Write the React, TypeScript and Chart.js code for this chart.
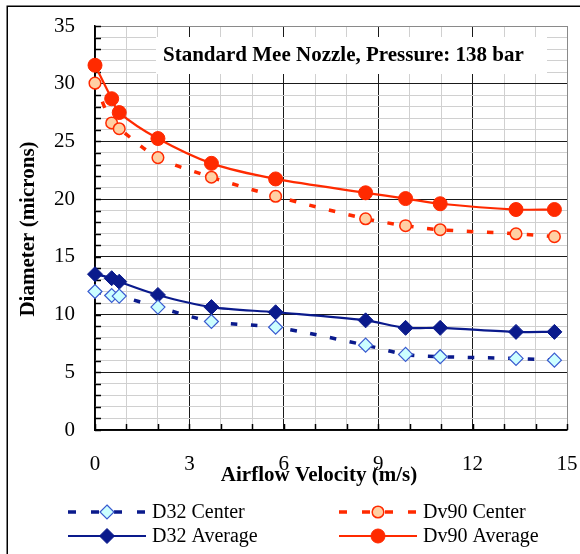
import React, { useEffect, useRef } from 'react';
import { Chart, registerables } from 'chart.js';

Chart.register(...registerables);

// ---- data ----
const velocity = [0, 0.53, 0.77, 2.0, 3.7, 5.74, 8.6, 9.87, 10.97, 13.38, 14.6];
const d32Center = [12.0, 11.65, 11.6, 10.65, 9.4, 8.9, 7.35, 6.55, 6.35, 6.2, 6.05];
const d32Average = [13.5, 13.15, 12.85, 11.7, 10.65, 10.2, 9.5, 8.85, 8.85, 8.5, 8.5];
const dv90Center = [30.05, 26.6, 26.1, 23.6, 21.9, 20.25, 18.3, 17.7, 17.35, 17.0, 16.75];
const dv90Average = [31.6, 28.7, 27.5, 25.25, 23.1, 21.75, 20.55, 20.05, 19.6, 19.1, 19.1];
const seriesNames = ['D32 Center', 'D32 Average', 'Dv90 Center', 'Dv90 Average'];
const xMajorStep = 3;
const yMajorStep = 5;
const xRange = [0, 15];
const yRange = [0, 35];
const chartTitle = 'Standard Mee Nozzle, Pressure: 138 bar';
const xAxisTitle = 'Airflow Velocity (m/s)';
const yAxisTitle = 'Diameter (microns)';

const NAVY = '#0A1A8C';
const RED = '#FF2A00';
const SERIF = "'Liberation Serif', 'Times New Roman', serif";

const toPoints = (ys: number[]) => velocity.map((x, i) => ({ x, y: ys[i] }));

function drawMarker(ctx: CanvasRenderingContext2D, ds: any, x: number, y: number) {
  const r = ds.pointRadius;
  ctx.save();
  ctx.beginPath();
  if (ds.pointStyle === 'circle') {
    ctx.arc(x, y, r, 0, Math.PI * 2);
  } else {
    ctx.moveTo(x, y - r);
    ctx.lineTo(x + r, y);
    ctx.lineTo(x, y + r);
    ctx.lineTo(x - r, y);
    ctx.closePath();
  }
  ctx.fillStyle = ds.pointBackgroundColor;
  ctx.fill();
  ctx.lineWidth = ds.pointBorderWidth;
  ctx.strokeStyle = ds.pointBorderColor;
  ctx.setLineDash([]);
  ctx.stroke();
  ctx.restore();
}

const decorPlugin = {
  id: 'decor',
  beforeDatasetsDraw(chart: any) {
    const { ctx, chartArea, scales } = chart;
    ctx.save();
    ctx.strokeStyle = '#000';
    ctx.lineWidth = 1.5;
    for (let v = xRange[0]; v <= xRange[1]; v++) {
      const x = Math.round(scales.x.getPixelForValue(v)) + 0.5;
      ctx.beginPath();
      ctx.moveTo(x, chartArea.bottom);
      ctx.lineTo(x, chartArea.bottom - 6);
      ctx.stroke();
    }
    for (let v = yRange[0]; v <= yRange[1]; v++) {
      const y = Math.round(scales.y.getPixelForValue(v)) + 0.5;
      ctx.beginPath();
      ctx.moveTo(chartArea.left, y);
      ctx.lineTo(chartArea.left + 6, y);
      ctx.stroke();
    }
    // title box
    ctx.fillStyle = '#fff';
    ctx.fillRect(156, 37, 391, 37);
    ctx.fillStyle = '#000';
    ctx.font = `bold 21px ${SERIF}`;
    ctx.textAlign = 'left';
    ctx.textBaseline = 'alphabetic';
    ctx.fillText(chartTitle, 163, 61);
    ctx.restore();
  },
  afterDraw(chart: any) {
    const { ctx } = chart;
    ctx.save();
    // outer frame
    ctx.strokeStyle = '#000';
    ctx.lineWidth = 1.5;
    ctx.setLineDash([]);
    ctx.beginPath();
    ctx.moveTo(7.25, 554);
    ctx.lineTo(7.25, 6.25);
    ctx.lineTo(580, 6.25);
    ctx.stroke();

    // axis titles
    ctx.fillStyle = '#000';
    ctx.font = `bold 21px ${SERIF}`;
    ctx.textAlign = 'center';
    ctx.textBaseline = 'alphabetic';
    ctx.fillText(xAxisTitle, 319, 481);
    ctx.save();
    ctx.translate(33.5, 229);
    ctx.rotate(-Math.PI / 2);
    ctx.fillText(yAxisTitle, 0, 0);
    ctx.restore();

    // legend
    const slots = [
      { x: 68, y: 512 },
      { x: 68, y: 536 },
      { x: 339, y: 512 },
      { x: 339, y: 536 },
    ];
    chart.data.datasets.forEach((ds: any, i: number) => {
      const s = slots[i];
      ctx.save();
      ctx.strokeStyle = ds.borderColor;
      ctx.lineWidth = ds.borderWidth;
      ctx.setLineDash(ds.borderDash && ds.borderDash.length ? [8, 15] : []);
      ctx.beginPath();
      ctx.moveTo(s.x, s.y);
      ctx.lineTo(s.x + 78, s.y);
      ctx.stroke();
      ctx.restore();
      drawMarker(ctx, ds, s.x + 39, s.y);
      ctx.fillStyle = '#000';
      ctx.font = `20px ${SERIF}`;
      ctx.textAlign = 'left';
      ctx.textBaseline = 'middle';
      ctx.fillText(ds.label, s.x + 84, s.y + 1);
    });
    ctx.restore();
  },
};

export default function App() {
  const ref = useRef<HTMLCanvasElement | null>(null);

  useEffect(() => {
    if (!ref.current) return;
    const common = { clip: false, tension: 0.3, fill: false };
    const chart = new Chart(ref.current, {
      type: 'line',
      data: {
        datasets: [
          {
            ...common,
            label: seriesNames[0],
            data: toPoints(d32Center),
            borderColor: NAVY,
            borderWidth: 3.5,
            borderDash: [6.5, 13.5],
            pointStyle: 'rectRot',
            pointRadius: 7,
            pointBackgroundColor: '#CCFFFF',
            pointBorderColor: '#3A5BD0',
            pointBorderWidth: 1.2,
          },
          {
            ...common,
            label: seriesNames[1],
            data: toPoints(d32Average),
            borderColor: NAVY,
            borderWidth: 2.2,
            pointStyle: 'rectRot',
            pointRadius: 7.5,
            pointBackgroundColor: NAVY,
            pointBorderColor: NAVY,
            pointBorderWidth: 1,
          },
          {
            ...common,
            label: seriesNames[2],
            data: toPoints(dv90Center),
            borderColor: RED,
            borderWidth: 3.5,
            borderDash: [6.5, 13.5],
            pointStyle: 'circle',
            pointRadius: 5.8,
            pointBackgroundColor: '#FFD0A4',
            pointBorderColor: RED,
            pointBorderWidth: 1.5,
          },
          {
            ...common,
            label: seriesNames[3],
            data: toPoints(dv90Average),
            borderColor: RED,
            borderWidth: 2.2,
            pointStyle: 'circle',
            pointRadius: 7,
            pointBackgroundColor: RED,
            pointBorderColor: RED,
            pointBorderWidth: 1,
          },
        ],
      },
      options: {
        responsive: false,
        animation: false,
        devicePixelRatio: 1,
        events: [],
        layout: { padding: { top: 26, right: 13, left: 0, bottom: 0 } },
        plugins: {
          legend: { display: false },
          title: { display: false },
          tooltip: { enabled: false },
        },
        scales: {
          x: {
            type: 'linear',
            min: xRange[0],
            max: xRange[1],
            afterFit: (s: any) => {
              s.height = 124;
            },
            ticks: {
              stepSize: 1,
              autoSkip: false,
              maxRotation: 0,
              minRotation: 0,
              padding: 0,
              color: '#000',
              font: { family: SERIF, size: 21 },
              callback: (v: any) => (Number(v) % xMajorStep === 0 ? String(v) : ''),
            },
            grid: {
              drawTicks: true,
              tickLength: 22,
              tickColor: 'rgba(0,0,0,0)',
              lineWidth: 1,
              color: (c: any) => {
                const v = c.tick ? c.tick.value : 0;
                if (v === xRange[1]) return '#8a8a8a';
                return v % xMajorStep === 0 ? '#1a1a1a' : '#d0d0d0';
              },
            },
            border: { color: '#000', width: 1.5 },
          },
          y: {
            type: 'linear',
            min: yRange[0],
            max: yRange[1],
            afterFit: (s: any) => {
              s.width = 95;
            },
            ticks: {
              stepSize: 1,
              autoSkip: false,
              padding: 0,
              color: '#000',
              font: { family: SERIF, size: 21 },
              callback: (v: any) => (Number(v) % yMajorStep === 0 ? String(v) : ''),
            },
            grid: {
              drawTicks: true,
              tickLength: 20,
              tickColor: 'rgba(0,0,0,0)',
              lineWidth: 1,
              color: (c: any) => {
                const v = c.tick ? c.tick.value : 0;
                if (v === yRange[1]) return '#8a8a8a';
                return v % yMajorStep === 0 ? '#1a1a1a' : '#d0d0d0';
              },
            },
            border: { color: '#000', width: 1.5 },
          },
        },
      } as any,
      plugins: [decorPlugin],
    });
    return () => chart.destroy();
  }, []);

  return (
    <div style={{ position: 'absolute', left: 0, top: 0, width: 580, height: 554, background: '#fff' }}>
      <canvas ref={ref} width={580} height={554} style={{ display: 'block', width: 580, height: 554 }} />
    </div>
  );
}
